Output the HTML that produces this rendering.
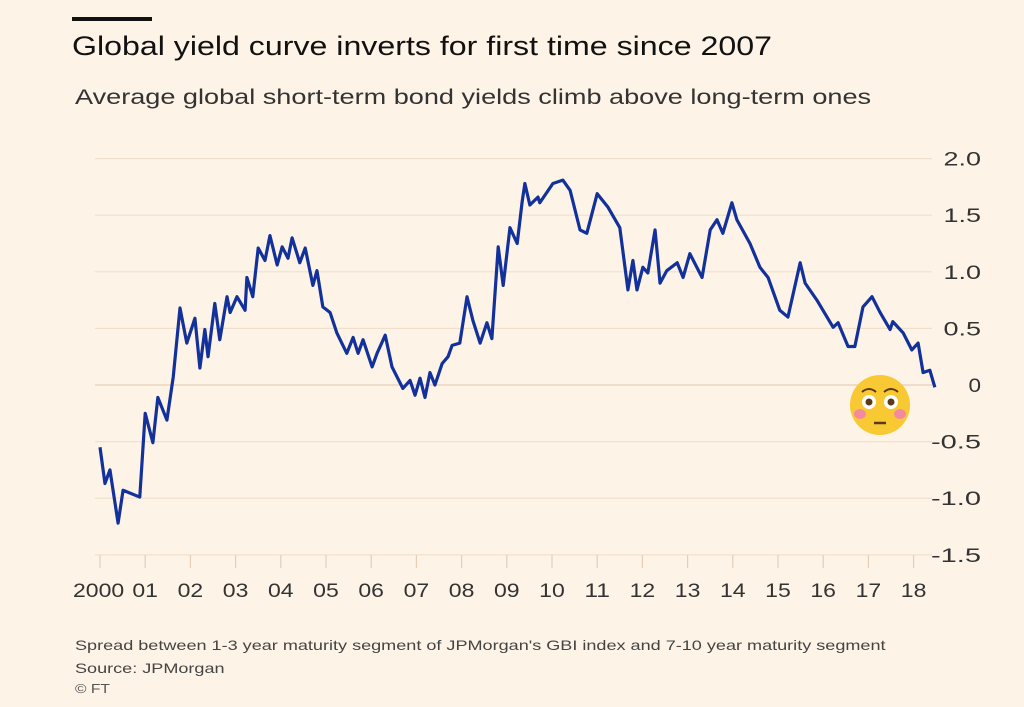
<!DOCTYPE html>
<html><head><meta charset="utf-8"><style>
body{margin:0;background:#fdf4e7;}
#wrap{position:relative;width:1024px;height:707px;overflow:hidden;background:#fdf4e7;font-family:"Liberation Sans",sans-serif;}
.t{position:absolute;white-space:nowrap;transform-origin:0 0;}
</style></head><body>
<div id="wrap">
<div class="t" style="left:72px;top:17px;width:80px;height:4px;background:#111;"></div>
<div class="t" style="left:72px;top:31px;font-size:27px;color:#111;transform:scaleX(1.19);">Global yield curve inverts for first time since 2007</div>
<div class="t" style="left:75px;top:86px;font-size:21px;color:#333;transform:scaleX(1.29);">Average global short-term bond yields climb above long-term ones</div>
<svg id="chart" width="1024" height="707" style="position:absolute;left:0;top:0;"></svg>
<div class="t" style="left:75px;top:637px;font-size:14px;color:#444;transform:scaleX(1.29);">Spread between 1-3 year maturity segment of JPMorgan's GBI index and 7-10 year maturity segment</div>
<div class="t" style="left:75px;top:660px;font-size:14px;color:#444;transform:scaleX(1.29);">Source: JPMorgan</div>
<div class="t" style="left:75px;top:681px;font-size:13px;color:#555;transform:scaleX(1.2);">© FT</div>
</div>
<script>
const yTicks=[2.0,1.5,1.0,0.5,0,-0.5,-1.0,-1.5];
const yTickLabels=["2.0","1.5","1.0","0.5","0","-0.5","-1.0","-1.5"];
const xTicks=[0,1,2,3,4,5,6,7,8,9,10,11,12,13,14,15,16,17,18];
const xTickLabels=["2000","01","02","03","04","05","06","07","08","09","10","11","12","13","14","15","16","17","18"];
const years=[0.0,0.11,0.22,0.40,0.51,0.88,1.00,1.17,1.28,1.48,1.62,1.77,1.92,2.10,2.21,2.32,2.39,2.54,2.65,2.81,2.88,3.03,3.21,3.25,3.38,3.50,3.65,3.76,3.92,4.03,4.16,4.25,4.42,4.54,4.71,4.80,4.93,5.09,5.24,5.46,5.60,5.71,5.82,6.02,6.13,6.31,6.46,6.70,6.86,6.97,7.08,7.19,7.30,7.41,7.57,7.70,7.79,7.96,8.12,8.25,8.41,8.56,8.67,8.81,8.92,9.07,9.23,9.34,9.40,9.51,9.69,9.73,10.02,10.24,10.40,10.62,10.77,11.00,11.24,11.50,11.68,11.79,11.88,12.01,12.12,12.28,12.39,12.54,12.77,12.90,13.05,13.32,13.50,13.65,13.78,13.98,14.09,14.38,14.60,14.78,15.04,15.22,15.49,15.60,15.86,16.22,16.33,16.55,16.70,16.88,17.08,17.26,17.48,17.54,17.77,17.96,18.10,18.21,18.36,18.47];
const spread=[-0.55,-0.87,-0.75,-1.22,-0.93,-0.99,-0.25,-0.51,-0.11,-0.31,0.07,0.68,0.37,0.59,0.15,0.49,0.25,0.72,0.40,0.78,0.64,0.78,0.66,0.95,0.78,1.21,1.10,1.32,1.06,1.22,1.12,1.30,1.08,1.21,0.88,1.01,0.69,0.64,0.46,0.28,0.42,0.28,0.40,0.16,0.28,0.44,0.16,-0.03,0.04,-0.09,0.06,-0.11,0.11,0.0,0.19,0.25,0.35,0.37,0.78,0.57,0.37,0.55,0.41,1.22,0.88,1.39,1.25,1.62,1.78,1.59,1.66,1.61,1.78,1.81,1.72,1.37,1.34,1.69,1.57,1.39,0.84,1.10,0.84,1.04,0.99,1.37,0.90,1.01,1.08,0.95,1.16,0.95,1.37,1.46,1.34,1.61,1.46,1.25,1.04,0.95,0.66,0.60,1.08,0.90,0.75,0.51,0.55,0.34,0.34,0.69,0.78,0.64,0.49,0.56,0.46,0.31,0.37,0.11,0.13,-0.02];
const svg=document.getElementById('chart');const NS='http://www.w3.org/2000/svg';
const X=v=>100+v*45.2, Y=v=>385-v*113.2;
function mk(t,a){const e=document.createElementNS(NS,t);for(const k in a)e.setAttribute(k,a[k]);svg.appendChild(e);return e;}
yTicks.forEach((v,i)=>{
 const l=mk('line',{x1:95,x2:932,y1:Y(v),y2:Y(v),stroke:v===0?'#e8cdb4':'#f1dfca','stroke-width':1.2});
 
 
 const t=mk('text',{x:981,y:Y(v)+7,'text-anchor':'end','font-size':19,fill:'#333','font-family':'Liberation Sans, sans-serif','textLength':(yTickLabels[i].length*12.5),'lengthAdjust':'spacingAndGlyphs'});
 t.textContent=yTickLabels[i];
 
 
});
xTicks.forEach((v,i)=>{
 const l=mk('line',{x1:X(v),x2:X(v),y1:555,y2:568,stroke:'#e6cdb6','stroke-width':1.2});
 
 
 const w=xTickLabels[i].length*12.8;
 const t=mk('text',{x:X(v)+(i===0?-27:-w/2),y:597,'font-size':19,fill:'#333','font-family':'Liberation Sans, sans-serif','textLength':w,'lengthAdjust':'spacingAndGlyphs'});
 t.textContent=xTickLabels[i];
 
 
});
const p=mk('polyline',{points:years.map((y,i)=>X(y)+','+Y(spread[i])).join(' '),fill:'none',stroke:'#13319a','stroke-width':3.2,'stroke-linejoin':'round'});


const g=mk('g',{});


g.innerHTML='<circle cx="880" cy="405" r="30" fill="#f9c933"/><circle cx="869" cy="402" r="7" fill="#fff"/><circle cx="891" cy="402" r="7" fill="#fff"/><circle cx="869" cy="402" r="3.5" fill="#5b3a1a"/><circle cx="891" cy="402" r="3.5" fill="#5b3a1a"/><ellipse cx="860" cy="414" rx="6" ry="5" fill="#f48aa0"/><ellipse cx="900" cy="414" rx="6" ry="5" fill="#f48aa0"/><path d="M862 392 q7 -6 14 0 M884 392 q7 -6 14 0" stroke="#5b3a1a" stroke-width="2" fill="none"/><line x1="874" y1="423" x2="886" y2="423" stroke="#5b3a1a" stroke-width="2.5"/>';
</script>
</body></html>
